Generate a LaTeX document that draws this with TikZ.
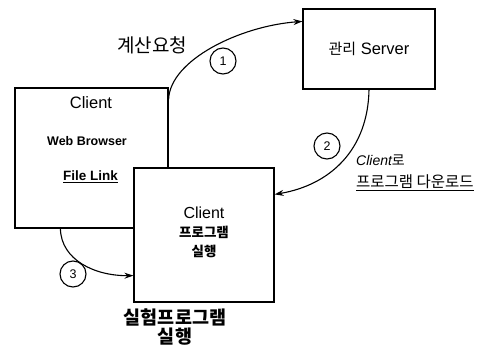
\documentclass[tikz,border=0pt]{standalone}
\usepackage{fontspec}
\setmainfont{Liberation Sans}
\newfontfamily\kr{Noto Sans CJK KR}
\usetikzlibrary{arrows.meta,calc}
\tikzset{
  box/.style={draw, line width=1.2pt, fill=white, inner sep=0pt},
  flow/.style={line width=1.1pt, -{Stealth[length=9pt,width=6pt]}},
  num/.style={draw, circle, line width=1.1pt, minimum size=26pt, inner sep=0pt, font=\fontsize{12.5}{12.5}\selectfont},
  lbl/.style={inner sep=0pt, align=center}
}
\begin{document}
\begin{tikzpicture}[x=1pt, y=-1pt]
\useasboundingbox (0,0) rectangle (495,345);

% boxes
\node[box, minimum width=153pt, minimum height=140pt] (cbox) at (91.5,158) {};
\node[box, minimum width=140pt, minimum height=134pt] (prog) at (204,235) {};
\node[box, minimum width=132pt, minimum height=80pt] (srv) at (369,49) {};

% box texts
\node[lbl, font=\fontsize{16.5}{18}\selectfont] (ctitle) at (91,103) {Client};
\node[lbl, font=\bfseries\fontsize{12.5}{14}\selectfont] (cweb) at (87,141) {Web Browser};
\node[lbl, font=\bfseries\fontsize{13.5}{15}\selectfont] (clink) at (90.5,177) {\underline{File Link}};
\node[lbl, font=\fontsize{16.5}{18}\selectfont] (stitle) at (369,49) {{\kr\fontsize{15}{18}\selectfont 관리} Server};
\node[lbl, font=\fontsize{16}{19}\selectfont] (ptitle) at (204,213) {Client};
\node[lbl, font=\kr\bfseries\fontsize{13.5}{16}\selectfont] (pkr1) at (204,232) {프로그램};
\node[lbl, font=\kr\bfseries\fontsize{13.5}{16}\selectfont] (pkr2) at (204,251) {실행};

% connectors
\draw[flow] ($(cbox.north east)+(0,12)$) .. controls (170,60) and (240,26) .. ($(srv.north west)+(0,13)$);
\draw[flow] (srv.south) .. controls (368,150) and (330,185) .. ($(prog.north east)+(0,27)$);
\draw[flow] ($(cbox.south west)+(46,0)$) .. controls (61,260) and (95,276) .. ($(prog.south west)+(0,-27)$);

% step numbers
\node[num, fill=white] (n1) at (223,61) {1};
\node[num, fill=white] (n2) at (327,146) {2};
\node[num, fill=white] (n3) at (73,274) {3};

% connector labels
\node[lbl, font=\kr\fontsize{19}{22}\selectfont] (req) at (152,45) {계산요청};
\node[lbl, anchor=west, font=\fontsize{14}{16}\selectfont\itshape] (dl1) at (356,160) {Client{\kr\upshape 로}};
\node[lbl, anchor=west, font=\kr\fontsize{15.5}{18}\selectfont] (dl2) at (356,183) {\underline{프로그램 다운로드}};
\node[lbl, font=\kr\bfseries\fontsize{18.5}{20}\selectfont] (run1) at (175,317) {실험프로그램};
\node[lbl, font=\kr\bfseries\fontsize{18.5}{20}\selectfont] (run2) at (175,337) {실행};
\end{tikzpicture}
\end{document}
